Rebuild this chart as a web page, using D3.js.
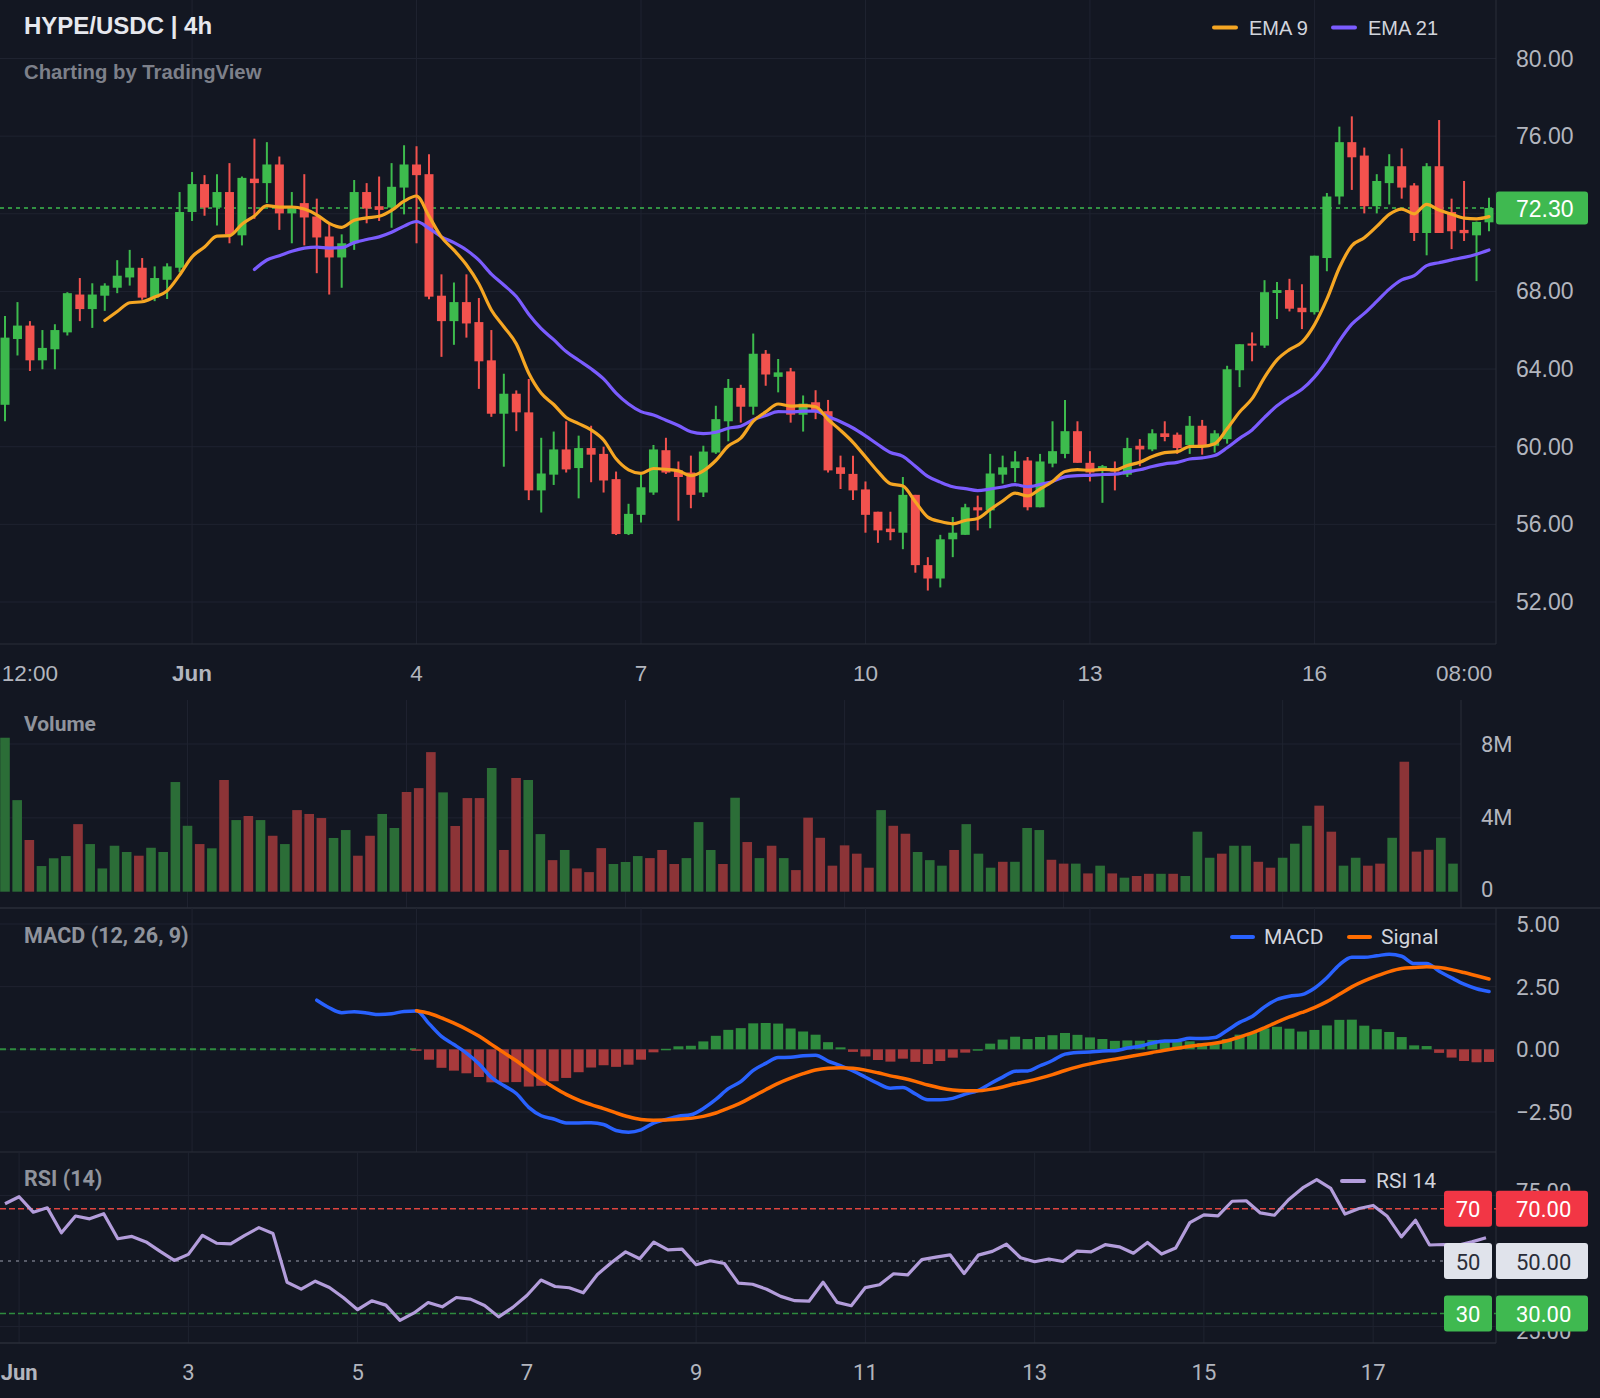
<!DOCTYPE html>
<html>
<head>
<meta charset="utf-8">
<title>HYPE/USDC 4h</title>
<script src="https://d3js.org/d3.v7.min.js"></script>
<style>
  html, body { margin: 0; padding: 0; background: #131722; }
  svg { display: block; }
</style>
</head>
<body>
<svg width="1600" height="1398"></svg>
<script>
// 4h candles
const opens = [62.16,65.55,66.24,64.45,65.02,65.89,67.84,67.09,67.78,68.19,68.72,69.22,67.68,68.60,69.22,72.09,73.53,72.32,73.12,70.89,
  73.81,73.58,74.54,72.02,72.55,71.86,70.83,69.75,70.48,73.12,72.39,72.32,73.35,74.54,74.04,67.78,66.47,67.45,66.42,64.45,
  61.70,62.73,61.77,57.75,58.56,59.86,58.90,59.93,59.63,58.33,55.50,56.49,57.64,59.82,58.78,58.67,57.64,59.70,61.31,63.03,
  62.06,64.79,63.60,63.88,61.65,62.29,61.83,58.94,58.60,57.80,56.65,55.78,55.57,57.52,53.90,53.21,55.23,55.46,56.88,56.72,
  58.56,58.90,59.29,56.88,59.13,59.63,60.80,59.17,58.85,58.90,58.56,60.05,59.86,60.69,60.62,60.09,61.08,60.05,60.39,63.94,
  65.32,65.21,67.92,68.07,67.16,66.93,69.72,72.89,75.69,75.00,72.39,73.58,74.45,73.46,71.01,74.45,72.09,71.17,70.89,71.56];
const highs = [66.74,67.45,66.47,66.01,66.31,67.96,68.69,68.42,68.42,69.61,70.14,69.72,69.29,69.45,73.12,74.15,73.99,74.04,74.61,73.92,
  75.87,75.69,74.95,73.12,74.04,72.78,71.51,70.94,73.74,73.58,73.92,74.61,75.53,75.48,75.07,68.88,68.46,68.88,67.66,66.01,
  63.76,62.90,63.49,60.46,60.78,61.31,60.57,61.08,60.00,58.72,57.06,58.56,60.09,60.46,59.24,59.54,60.05,62.11,63.49,63.19,
  65.83,64.98,64.52,64.06,62.64,62.91,62.41,59.54,59.54,58.21,56.65,56.65,58.44,57.52,54.31,55.46,56.38,57.06,57.48,59.63,
  59.54,59.77,59.47,59.63,61.31,62.41,61.31,59.77,59.06,59.24,60.46,60.39,60.90,61.31,60.73,61.58,61.38,60.85,64.17,65.28,
  65.89,68.58,68.49,68.65,68.37,69.84,73.07,76.49,77.02,75.41,74.04,75.07,75.37,73.58,74.61,76.83,72.78,73.69,71.60,72.82];
const lows = [61.31,64.70,63.90,63.99,63.99,65.73,66.47,66.12,67.00,67.91,68.30,67.57,67.50,67.61,68.99,71.63,71.90,71.40,70.48,70.37,
  71.74,72.55,71.17,70.48,70.37,68.94,67.84,68.19,70.14,71.51,71.63,71.28,71.97,70.48,67.60,64.63,65.25,65.62,62.98,61.54,
  58.97,60.80,57.25,56.61,58.03,58.67,57.34,58.17,57.64,55.45,55.45,56.10,57.52,58.60,56.19,56.83,57.41,59.63,60.28,61.24,
  61.65,63.14,62.80,61.24,60.78,61.42,58.67,57.82,57.25,55.57,55.05,55.18,54.72,53.51,52.59,52.75,54.31,55.46,55.69,55.80,
  58.10,58.17,56.72,56.88,58.94,59.40,59.17,58.21,57.11,57.75,58.44,59.00,59.77,60.28,59.63,59.63,59.59,59.70,60.16,63.07,
  64.40,65.09,66.58,66.97,66.06,66.81,69.04,72.48,73.23,72.02,72.02,72.48,72.78,70.60,69.86,71.01,70.18,70.60,68.53,71.10];
const closes = [65.62,66.24,64.45,65.09,66.01,67.91,67.09,67.84,68.30,68.81,69.22,67.68,68.69,69.29,72.09,73.53,72.32,73.12,70.94,73.85,
  73.58,74.54,72.02,72.39,71.81,70.78,69.75,70.48,73.12,72.27,72.20,73.39,74.54,73.99,67.73,66.47,67.45,66.35,64.40,61.70,
  62.73,61.77,57.75,58.62,59.86,58.83,59.93,59.59,58.26,55.50,56.54,57.91,59.86,58.67,58.44,57.52,59.75,61.42,63.03,62.06,
  64.79,63.72,63.83,61.65,62.22,61.83,58.78,58.60,57.75,56.49,55.69,55.60,57.52,53.90,53.21,55.23,55.57,56.88,56.72,58.62,
  58.94,59.24,56.88,59.24,59.77,60.80,59.17,58.67,59.00,58.72,59.93,59.86,60.69,60.50,59.93,61.08,60.05,60.69,63.99,65.28,
  65.21,67.96,68.07,67.11,66.93,69.84,72.89,75.69,74.91,72.39,73.69,74.45,73.35,71.01,74.45,71.01,71.10,71.00,71.58,72.30];
// volume in millions
const volumes = [8.34,4.96,2.80,1.39,1.81,1.93,3.66,2.58,1.26,2.49,2.15,1.95,2.38,2.15,5.94,3.57,2.58,2.35,6.05,3.88,
  4.10,3.88,3.03,2.58,4.42,4.21,3.99,2.91,3.34,1.95,3.03,4.21,3.45,5.40,5.61,7.56,5.38,3.56,5.07,5.07,
  6.70,2.26,6.16,6.05,3.12,1.71,2.26,1.26,1.06,2.36,1.50,1.61,1.93,1.82,2.26,1.50,1.82,3.77,2.26,1.50,
  5.09,2.69,1.82,2.49,1.82,1.17,4.01,2.92,1.41,2.51,2.06,1.30,4.42,3.57,3.14,2.15,1.71,1.41,2.26,3.66,
  2.06,1.30,1.62,1.62,3.45,3.34,1.73,1.52,1.52,0.99,1.41,0.99,0.76,0.85,0.97,0.97,0.97,0.85,3.25,1.84,
  2.06,2.49,2.49,1.62,1.30,1.84,2.60,3.57,4.66,3.25,1.41,1.84,1.41,1.52,2.92,7.04,2.17,2.27,2.92,1.52];

const lastPrice = 72.30;
const priceGrid = [52, 56, 60, 64, 68, 72, 76, 80];
const priceLabels = [52, 56, 60, 64, 68, 76, 80]; // 72 sits under the last-price badge
const volumeTicks = [0, 4, 8];
const macdTicks = [5, 2.5, 0, -2.5];
const rsiTicks = [75, 25];
const rsiLevels = [70, 50, 30];

// time axis: candle index of each label
const dayIdx = [15, 33, 51, 69, 87, 105];
const timeTickIdx = [2, 15, 33, 51, 69, 87, 105, 117];
const timeTickLabels = ["12:00", "Jun", "4", "7", "10", "13", "16", "08:00"];
const rsiTickIdx = [1, 13, 25, 37, 49, 61, 73, 85, 97];
const rsiTickLabels = ["Jun", "3", "5", "7", "9", "11", "13", "15", "17"];

// indicators from the closes
function ema(values, n) {
  const k = 2 / (n + 1);
  const out = values.map(() => null);
  const start = values.findIndex(v => v != null);
  let prev = d3.mean(values.slice(start, start + n));
  out[start + n - 1] = prev;
  for (let i = start + n; i < values.length; i++) {
    prev = values[i] * k + prev * (1 - k);
    out[i] = prev;
  }
  return out;
}
function rsi(values, n) {
  const out = values.map(() => null);
  let g = 0, l = 0;
  for (let i = 1; i <= n; i++) {
    const d = values[i] - values[i - 1];
    if (d > 0) g += d; else l -= d;
  }
  g /= n; l /= n;
  out[n] = 100 - 100 / (1 + g / l);
  for (let i = n + 1; i < values.length; i++) {
    const d = values[i] - values[i - 1];
    g = (g * (n - 1) + Math.max(d, 0)) / n;
    l = (l * (n - 1) + Math.max(-d, 0)) / n;
    out[i] = 100 - 100 / (1 + g / l);
  }
  return out;
}
const ema9 = ema(closes, 9);
const ema21 = ema(closes, 21);
const ema12 = ema(closes, 12);
const ema26 = ema(closes, 26);
const macd = closes.map((c, i) => (ema12[i] != null && ema26[i] != null) ? ema12[i] - ema26[i] : null);
const signal = ema(macd, 9);
const hist = macd.map((m, i) => (m != null && signal[i] != null) ? m - signal[i] : null);
const rsi14 = rsi(closes, 14).filter(v => v != null);

const data = closes.map((c, i) => ({
  i, o: opens[i], h: highs[i], l: lows[i], c, v: volumes[i],
  up: c >= opens[i]
}));

const C = {
  bg: "#131722", grid: "#1f2330", border: "#2a2e39", text: "#b2b5be",
  up: "#3dbb4d", down: "#f2524e", volUp: "#2b6d37", volDown: "#8c3437",
  histUp: "#2e8b3e", histDown: "#a83a3c",
  ema9: "#f5a623", ema21: "#7b5cff", macd: "#2962ff", signal: "#ff6d00", rsi: "#b39ddb"
};

const svg = d3.select("svg");
svg.append("rect").attr("width", 1600).attr("height", 1398).attr("fill", C.bg);

const plotRight = 1496;
const x = d3.scaleLinear().domain([0, 119]).range([5, 1489]);
const xVol = d3.scaleLinear().domain([0, 119]).range([5, 1453]);
const xRsi = d3.scaleLinear().domain([0, 105]).range([5, 1486]);

const yPrice = d3.scaleLinear().domain([52, 80]).range([602, 58.5]);
const yVol = d3.scaleLinear().domain([0, 8]).range([891.7, 744]);
const yMacd = d3.scaleLinear().domain([-2.5, 5]).range([1112, 924]);
const yRsi = d3.scaleLinear().domain([30, 70]).range([1313.5, 1208.7]);

function hLine(g, y, x1, x2, color, dash, w) {
  g.append("line").attr("x1", x1).attr("x2", x2).attr("y1", y).attr("y2", y)
    .attr("stroke", color).attr("stroke-width", w || 1).attr("stroke-dasharray", dash || null);
}
function vLine(g, xx, y1, y2, color, w) {
  g.append("line").attr("x1", xx).attr("x2", xx).attr("y1", y1).attr("y2", y2)
    .attr("stroke", color).attr("stroke-width", w || 1);
}
function label(g, xx, y, txt, opts) {
  opts = opts || {};
  return g.append("text").attr("x", xx).attr("y", y).text(txt)
    .attr("fill", opts.fill || C.text)
    .attr("font-family", opts.family || "'Liberation Sans', Arial, sans-serif")
    .attr("font-size", opts.size || 22)
    .attr("font-weight", opts.weight || "normal")
    .attr("text-anchor", opts.anchor || "start")
    .attr("dominant-baseline", "central");
}
const roboto = "Roboto, 'Noto Sans', sans-serif";

// ---------- price panel ----------
const gp = svg.append("g");
priceGrid.forEach(t => hLine(gp, yPrice(t), 0, plotRight, C.grid));
dayIdx.forEach(i => vLine(gp, x(i), 0, 644, C.grid));
vLine(gp, plotRight, 0, 644, C.border);
hLine(gp, 644, 0, plotRight, C.border);

hLine(gp, yPrice(lastPrice), 0, plotRight, C.up, "4,4", 1.5);

const candles = gp.selectAll("g.candle").data(data).enter().append("g");
candles.append("line")
  .attr("x1", d => x(d.i)).attr("x2", d => x(d.i))
  .attr("y1", d => yPrice(d.h)).attr("y2", d => yPrice(d.l))
  .attr("stroke", d => d.up ? C.up : C.down).attr("stroke-width", 2);
candles.append("rect")
  .attr("x", d => x(d.i) - 4.5).attr("width", 9)
  .attr("y", d => yPrice(Math.max(d.o, d.c)))
  .attr("height", d => Math.max(2, Math.abs(yPrice(d.o) - yPrice(d.c))))
  .attr("fill", d => d.up ? C.up : C.down);

const lineP = d3.line().defined(d => d[1] != null).x(d => x(d[0])).y(d => yPrice(d[1])).curve(d3.curveMonotoneX);
gp.append("path").attr("d", lineP(ema21.map((v, i) => [i, v])))
  .attr("fill", "none").attr("stroke", C.ema21).attr("stroke-width", 3.2).attr("stroke-linecap", "round");
gp.append("path").attr("d", lineP(ema9.map((v, i) => [i, v])))
  .attr("fill", "none").attr("stroke", C.ema9).attr("stroke-width", 3.2).attr("stroke-linecap", "round");

priceLabels.forEach(t => label(gp, 1516, yPrice(t), t.toFixed(2), { size: 23 }));
gp.append("rect").attr("x", plotRight).attr("y", yPrice(lastPrice) - 16.5).attr("width", 92).attr("height", 33)
  .attr("rx", 3).attr("fill", "#3fb950");
label(gp, 1516, yPrice(lastPrice) + 1, lastPrice.toFixed(2), { fill: "#ffffff", size: 23 });

timeTickIdx.forEach((t, k) => label(gp, x(t), 673, timeTickLabels[k],
  { anchor: "middle", size: 22.5, weight: timeTickLabels[k] === "Jun" ? "bold" : "normal" }));

label(gp, 24, 25, "HYPE/USDC | 4h", { fill: "#e6e8ee", size: 24, weight: "bold" });
label(gp, 24, 72, "Charting by TradingView", { fill: "#7d808a", size: 20.3, weight: "bold" });

// legend
[["EMA 9", C.ema9, 1214], ["EMA 21", C.ema21, 1333]].forEach(([t, col, lx]) => {
  gp.append("line").attr("x1", lx).attr("x2", lx + 22).attr("y1", 27.5).attr("y2", 27.5)
    .attr("stroke", col).attr("stroke-width", 4).attr("stroke-linecap", "round");
  label(gp, lx + 35, 27.5, t, { fill: "#d1d4dc", size: 20 });
});

// ---------- volume panel ----------
const gv = svg.append("g");
volumeTicks.filter(t => t > 0).forEach(t => hLine(gv, yVol(t), 0, 1461, C.grid));
dayIdx.forEach(i => vLine(gv, xVol(i), 700, 908, C.grid));
vLine(gv, 1461, 700, 908, C.border);
gv.selectAll("rect.vol").data(data).enter().append("rect")
  .attr("x", d => xVol(d.i) - 4.8).attr("width", 9.6)
  .attr("y", d => yVol(d.v)).attr("height", d => yVol(0) - yVol(d.v))
  .attr("fill", d => d.up ? C.volUp : C.volDown);
volumeTicks.forEach(t => label(gv, 1481, yVol(t) - (t === 0 ? 2 : 0), t === 0 ? "0" : t + "M", { family: roboto, size: 22 }));
label(gv, 24, 724, "Volume", { family: roboto, size: 21, weight: "bold", fill: "#8f939c" });
hLine(svg, 908, 0, 1600, C.border, null, 1.5);

// ---------- MACD panel ----------
const gm = svg.append("g");
macdTicks.forEach(t => hLine(gm, yMacd(t), 0, plotRight, C.grid));
dayIdx.forEach(i => vLine(gm, x(i), 908, 1152, C.grid));
vLine(gm, plotRight, 908, 1152, C.border);
const firstSig = signal.findIndex(v => v != null);
hLine(gm, yMacd(0), 0, x(firstSig), "#2e8b3e", "6,4", 2);
const histData = data.filter(d => hist[d.i] != null);
gm.selectAll("rect.h").data(histData).enter().append("rect")
  .attr("x", d => x(d.i) - 5).attr("width", 10)
  .attr("y", d => yMacd(Math.max(0, hist[d.i])))
  .attr("height", d => Math.max(1.5, Math.abs(yMacd(hist[d.i]) - yMacd(0))))
  .attr("fill", d => hist[d.i] >= 0 ? C.histUp : C.histDown);
const lineM = d3.line().defined(d => d[1] != null).x(d => x(d[0])).y(d => yMacd(d[1])).curve(d3.curveMonotoneX);
gm.append("path").attr("d", lineM(macd.map((v, i) => [i, v])))
  .attr("fill", "none").attr("stroke", C.macd).attr("stroke-width", 3.5).attr("stroke-linecap", "round");
gm.append("path").attr("d", lineM(signal.map((v, i) => [i, v])))
  .attr("fill", "none").attr("stroke", C.signal).attr("stroke-width", 3.5).attr("stroke-linecap", "round");
macdTicks.forEach(t => label(gm, 1516, yMacd(t), (t < 0 ? "\u2212" : "") + Math.abs(t).toFixed(2), { family: roboto, size: 22.5 }));
label(gm, 24, 935, "MACD (12, 26, 9)", { family: roboto, size: 21.5, weight: "bold", fill: "#8f939c" });
[["MACD", C.macd, 1232], ["Signal", C.signal, 1349]].forEach(([t, col, lx]) => {
  gm.append("line").attr("x1", lx).attr("x2", lx + 21).attr("y1", 937).attr("y2", 937)
    .attr("stroke", col).attr("stroke-width", 4).attr("stroke-linecap", "round");
  label(gm, lx + 32, 937, t, { fill: "#d1d4dc", size: 21, family: roboto });
});
hLine(svg, 1152, 0, plotRight, C.border);

// ---------- RSI panel ----------
const gr = svg.append("g");
rsiTicks.forEach(t => hLine(gr, yRsi(t), 0, plotRight, C.grid));
rsiTickIdx.forEach(i => vLine(gr, xRsi(i), 1152, 1343, C.grid));
vLine(gr, plotRight, 1152, 1343, C.border);
hLine(gr, 1343, 0, plotRight, C.border, null, 1.5);
hLine(gr, yRsi(70), 0, plotRight, "#e0453f", "6,3", 1.5);
hLine(gr, yRsi(50), 0, plotRight, "#6f7380", "3,5", 1.5);
hLine(gr, yRsi(30), 0, plotRight, "#2e8b3e", "6,3", 1.5);
const lineR = d3.line().x((d, k) => xRsi(k)).y(d => yRsi(d));
gr.append("path").attr("d", lineR(rsi14)).attr("fill", "none")
  .attr("stroke", C.rsi).attr("stroke-width", 3.2).attr("stroke-linejoin", "round");
// 75.00 / 25.00 peek out from behind the level badges, as in the source
label(gr, 1516, yRsi(75) - 4, "75.00", { family: roboto, size: 22 });
label(gr, 1516, yRsi(25) + 5, "25.00", { family: roboto, size: 22 });
const badgeCol = { 70: ["#f23645", "#ffffff"], 50: ["#e0e3eb", "#2a2e39"], 30: ["#3fb950", "#ffffff"] };
rsiLevels.forEach(lv => {
  const [bg, fg] = badgeCol[lv];
  const yy = yRsi(lv);
  gr.append("rect").attr("x", 1444).attr("y", yy - 18).attr("width", 48).attr("height", 36).attr("rx", 3).attr("fill", bg);
  gr.append("rect").attr("x", plotRight).attr("y", yy - 18).attr("width", 92).attr("height", 36).attr("rx", 3).attr("fill", bg);
  label(gr, 1468, yy + 1, String(lv), { family: roboto, size: 22, anchor: "middle", fill: fg });
  label(gr, 1516, yy + 1, lv.toFixed(2), { family: roboto, size: 22, fill: fg });
});
rsiTickIdx.forEach((t, k) => label(gr, xRsi(t), 1372, rsiTickLabels[k],
  { family: roboto, size: 22, anchor: "middle", weight: rsiTickLabels[k] === "Jun" ? "bold" : "normal" }));
label(gr, 24, 1178, "RSI (14)", { family: roboto, size: 21.5, weight: "bold", fill: "#8f939c" });
gr.append("line").attr("x1", 1342).attr("x2", 1364).attr("y1", 1181).attr("y2", 1181)
  .attr("stroke", C.rsi).attr("stroke-width", 4).attr("stroke-linecap", "round");
label(gr, 1376, 1181, "RSI 14", { fill: "#d1d4dc", size: 21, family: roboto });
</script>
</body>
</html>
